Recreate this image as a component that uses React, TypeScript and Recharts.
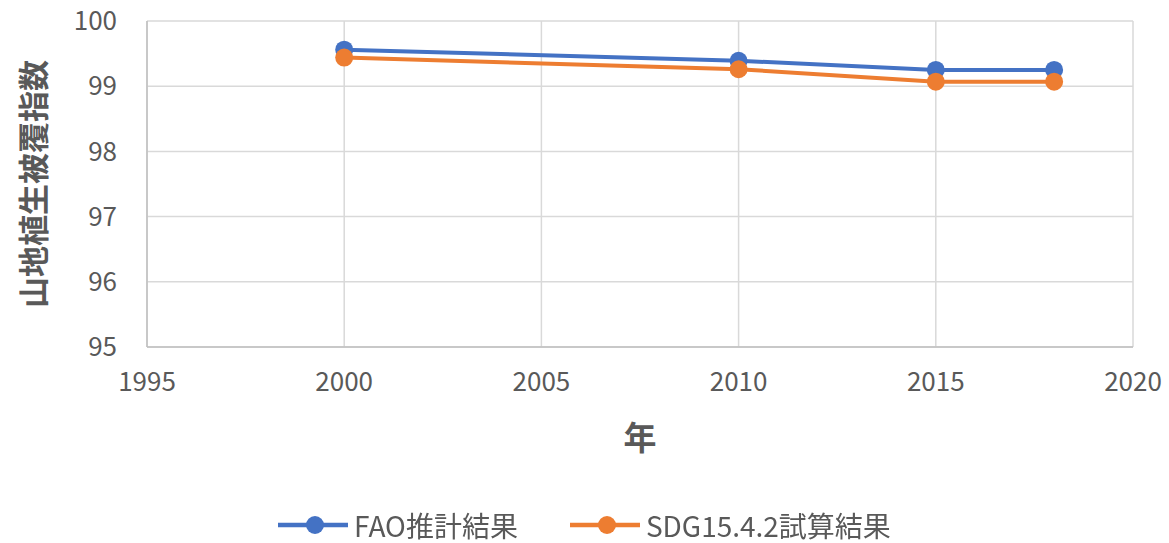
import React from 'react';
import { LineChart, Line, XAxis, YAxis, CartesianGrid, Legend } from 'recharts';

const years = [2000, 2010, 2015, 2018];
const faoValues = [99.56, 99.39, 99.25, 99.25];
const sdgValues = [99.44, 99.26, 99.07, 99.07];
const xTicks = [1995, 2000, 2005, 2010, 2015, 2020];
const yTicks = [95, 96, 97, 98, 99, 100];

const SERIES = [
  { key: 'fao', name: 'FAO推計結果', color: '#4472C4' },
  { key: 'sdg', name: 'SDG15.4.2試算結果', color: '#ED7D31' },
];

const FONT = '"Noto Sans CJK JP", "Noto Sans", sans-serif';

const chartData = years.map((year, i) => ({
  year,
  fao: faoValues[i],
  sdg: sdgValues[i],
}));

const YTitle = (props: any) => {
  const vb = props.viewBox || {};
  const cx = 31;
  const cy = vb.y + vb.height / 2;
  return (
    <text
      x={cx}
      y={cy}
      transform={`rotate(-90, ${cx}, ${cy})`}
      textAnchor="middle"
      dominantBaseline="central"
      fill="#595959"
      fontSize={31}
      fontWeight="bold"
      fontFamily={FONT}
    >
      山地植生被覆指数
    </text>
  );
};

const LegendContent = () => (
  <div
    style={{
      display: 'flex',
      justifyContent: 'center',
      gap: 52,
      fontFamily: FONT,
      fontSize: 28,
      lineHeight: '28px',
      height: 28,
      color: '#595959',
    }}
  >
    {SERIES.map((s) => (
      <div key={s.key} style={{ display: 'flex', alignItems: 'center' }}>
        <svg width={70} height={22} style={{ marginRight: 6 }}>
          <line x1={0} y1={11} x2={70} y2={11} stroke={s.color} strokeWidth={4.5} />
          <circle cx={37} cy={11} r={9} fill={s.color} />
        </svg>
        <span style={{ display: 'inline-block', height: 28 }}>{s.name}</span>
      </div>
    ))}
  </div>
);

export default function App() {
  return (
    <div style={{ position: 'fixed', top: 0, left: 0, width: 1169, height: 543, background: '#fff' }}>
      <LineChart width={1169} height={543} data={chartData} margin={{ top: 21, right: 36, left: 0, bottom: 0 }}>
        <CartesianGrid stroke="#d9d9d9" strokeWidth={1.5} />
        <XAxis
          dataKey="year"
          type="number"
          domain={[1995, 2020]}
          ticks={xTicks}
          height={146}
          tickLine={false}
          axisLine={{ stroke: '#bfbfbf', strokeWidth: 1.5 }}
          tickMargin={20}
          tick={{ fill: '#595959', fontSize: 26, fontFamily: FONT }}
          label={{
            value: '年',
            position: 'insideTop',
            offset: 80,
            fill: '#595959',
            fontSize: 33,
            fontWeight: 'bold',
            fontFamily: FONT,
          }}
        />
        <YAxis
          type="number"
          domain={[95, 100]}
          ticks={yTicks}
          width={147}
          tickLine={false}
          axisLine={{ stroke: '#bfbfbf', strokeWidth: 1.5 }}
          tickMargin={24}
          tick={{ fill: '#595959', fontSize: 26, fontFamily: FONT }}
          label={<YTitle />}
        />
        <Legend
          verticalAlign="bottom"
          height={50}
          content={<LegendContent />}
          wrapperStyle={{ left: 0, width: 1169, top: 511, bottom: 'auto' }}
        />
        {SERIES.map((s) => (
          <Line
            key={s.key}
            dataKey={s.key}
            name={s.name}
            stroke={s.color}
            strokeWidth={4}
            dot={{ r: 9, fill: s.color, stroke: s.color, strokeWidth: 0 }}
            isAnimationActive={false}
          />
        ))}
      </LineChart>
    </div>
  );
}
